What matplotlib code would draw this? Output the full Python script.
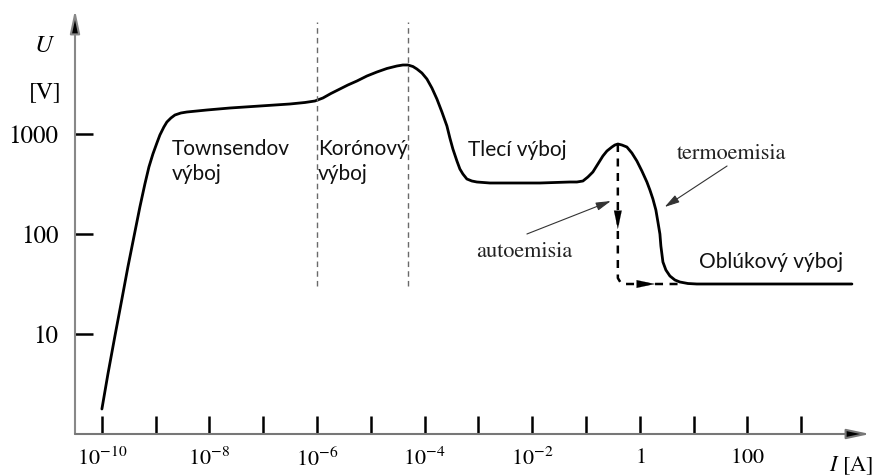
import numpy as np
import matplotlib
matplotlib.use('Agg')
import matplotlib.pyplot as plt
from matplotlib.patches import ArrowStyle

plt.rcParams['mathtext.fontset'] = 'stix'
SERIF = 'STIXGeneral'
SANS = 'Lato'

# ---- data (log10 of current [A] and voltage [V]) ----
log_I = [-10.000, -9.888, -9.758, -9.628, -9.517, -9.387, -9.294, -9.201, -9.126, -9.052,
         -8.978, -8.922, -8.848, -8.792, -8.717, -8.643, -8.532, -8.420, -8.234, -8.048,
         -7.621, -7.063, -6.506, -6.227, -6.041, -5.892, -5.743, -5.576, -5.428, -5.260,
         -5.074, -4.888, -4.703, -4.517, -4.405, -4.312, -4.219, -4.145, -4.052, -3.959,
         -3.866, -3.773, -3.680, -3.587, -3.532, -3.476, -3.401, -3.346, -3.290, -3.216,
         -3.123, -3.030, -2.788, -1.859, -1.301, -1.171, -1.059, -0.967, -0.874, -0.781,
         -0.688, -0.613, -0.520, -0.465, -0.409, -0.335, -0.242, -0.149, -0.056, 0.037,
         0.130, 0.186, 0.242, 0.297, 0.335, 0.372, 0.390, 0.409, 0.428, 0.483,
         0.558, 0.651, 0.743, 0.892, 1.059, 3.941]
log_U = [0.25, 0.60, 0.98, 1.35, 1.67, 2.02, 2.27, 2.50, 2.67, 2.80,
         2.91, 2.99, 3.07, 3.12, 3.16, 3.19, 3.21, 3.22, 3.23, 3.24,
         3.26, 3.28, 3.30, 3.315, 3.33, 3.36, 3.405, 3.45, 3.49, 3.53,
         3.58, 3.62, 3.655, 3.68, 3.69, 3.69, 3.675, 3.65, 3.61, 3.55,
         3.46, 3.35, 3.22, 3.08, 2.96, 2.85, 2.73, 2.65, 2.60, 2.55,
         2.53, 2.52, 2.51, 2.51, 2.52, 2.52, 2.53, 2.57, 2.62, 2.70,
         2.78, 2.83, 2.87, 2.89, 2.90, 2.89, 2.87, 2.81, 2.73, 2.63,
         2.52, 2.44, 2.35, 2.24, 2.12, 2.00, 1.88, 1.80, 1.72, 1.64,
         1.58, 1.54, 1.52, 1.505, 1.50, 1.50]

# auto-emission jump (dashed path)
jump_log_I = [-0.41, -0.41, -0.36, -0.28, 0.74]
jump_log_U = [2.90, 1.56, 1.515, 1.50, 1.50]

# region boundaries (dashed verticals)
boundary_log_I = [-6.0, -4.31]
boundary_log_U = [1.48, 4.12]

xtick_exps = list(range(-10, 4))
xtick_text = {-10: r'$10^{-10}$', -8: r'$10^{-8}$', -6: r'$10^{-6}$',
              -4: r'$10^{-4}$', -2: r'$10^{-2}$', 0: r'$1$', 2: r'$100$'}
ytick_vals = [10, 100, 1000]
ytick_text = ['10', '100', '1000']

region_labels = [('Townsendov\nvýboj', -8.70, 2.95),
                 ('Korónový\nvýboj', -5.99, 2.95),
                 ('Tlecí výboj', -3.20, 2.84),
                 ('Oblúkový výboj', 1.10, 1.72)]
process_labels = [('termoemisia', 0.69, 2.80, 1.62, 2.68, 0.46, 2.27),
                  ('autoemisia', -3.05, 1.82, -2.10, 2.00, -0.54, 2.33)]

# ---- figure ----
W, H = 876, 476
fig = plt.figure(figsize=(W / 100, H / 100), dpi=100)
ax = fig.add_axes([75 / W, 42 / H, 795 / W, 424 / H])
ax.set_xscale('log')
ax.set_yscale('log')
ax.set_xlim(10 ** -10.5, 10 ** 4.277)
ax.set_ylim(1, 10 ** 4.24)
for s in ax.spines.values():
    s.set_visible(False)

I = 10.0 ** np.array(log_I)
U = 10.0 ** np.array(log_U)
ax.plot(I, U, color='black', lw=2.0, solid_capstyle='round', solid_joinstyle='round')

ax.plot(10.0 ** np.array(jump_log_I), 10.0 ** np.array(jump_log_U),
        color='black', lw=1.8, dashes=(3.2, 2.6))

small_head = ArrowStyle('-|>', head_length=1.3, head_width=0.28)
ax.annotate('', xy=(10 ** -0.41, 10 ** 2.05), xytext=(10 ** -0.41, 10 ** 2.25),
            arrowprops=dict(arrowstyle=small_head, color='black', lw=0.1,
                            mutation_scale=10, shrinkA=0, shrinkB=0))
ax.annotate('', xy=(10 ** 0.28, 10 ** 1.50), xytext=(10 ** 0.0, 10 ** 1.50),
            arrowprops=dict(arrowstyle=small_head, color='black', lw=0.1,
                            mutation_scale=10, shrinkA=0, shrinkB=0))

for lx in boundary_log_I:
    ax.plot([10 ** lx, 10 ** lx], [10 ** boundary_log_U[0], 10 ** boundary_log_U[1]],
            color='#6a6a6a', lw=1.0, dashes=(4, 3))

# axes with arrows
ax_head = ArrowStyle('-|>', head_length=1.4, head_width=0.3)
ax.annotate('', xy=(0, 1.0), xytext=(0, 0), xycoords='axes fraction',
            arrowprops=dict(arrowstyle=ax_head, color='#888888', lw=1.5,
                            mutation_scale=10, shrinkA=0, shrinkB=0,
                            fc='black', ec='#888888'))
ax.annotate('', xy=(1.0, 0), xytext=(0, 0), xycoords='axes fraction',
            arrowprops=dict(arrowstyle=ax_head, color='#777777', lw=1.5,
                            mutation_scale=10, shrinkA=0, shrinkB=0,
                            fc='black', ec='#777777'))

# ticks
ax.set_xticks([10.0 ** e for e in xtick_exps])
ax.set_xticklabels([xtick_text.get(e, '') for e in xtick_exps])
ax.set_yticks(ytick_vals)
ax.set_yticklabels(ytick_text)
ax.xaxis.set_minor_locator(matplotlib.ticker.NullLocator())
ax.yaxis.set_minor_locator(matplotlib.ticker.NullLocator())
ax.tick_params(axis='both', direction='in', length=13, width=1.8, color='black')
ax.tick_params(axis='x', pad=10, labelsize=16)
ax.tick_params(axis='y', pad=12, labelsize=18)
for lab in ax.get_xticklabels() + ax.get_yticklabels():
    lab.set_fontfamily(SERIF)

# axis titles
fig.text(45 / W, 1 - 45 / H, r'$U$', fontsize=18, ha='center', va='center')
fig.text(45 / W, 1 - 92 / H, '[V]', fontsize=17, ha='center', va='center',
         family=SERIF)
fig.text(829 / W, 1 - 466 / H, r'$I$ [A]', fontsize=16, ha='left', va='center',
         family=SERIF)

# labels
for txt, lx, ly in region_labels:
    ax.text(10 ** lx, 10 ** ly, txt, fontsize=15, family=SANS, ha='left',
            va='top' if '\n' in txt else 'center', linespacing=1.3, color='#111111')

for txt, tx, ty, ax0, ay0, ax1, ay1 in process_labels:
    ax.text(10 ** tx, 10 ** ty, txt, fontsize=16, family=SERIF, ha='left',
            va='center', color='#222222')
    ax.annotate('', xy=(10 ** ax1, 10 ** ay1), xytext=(10 ** ax0, 10 ** ay0),
                arrowprops=dict(arrowstyle=ArrowStyle('-|>', head_length=0.9, head_width=0.25),
                                color='#333333', lw=0.8, mutation_scale=10,
                                shrinkA=0, shrinkB=0))

fig.savefig('out.png', dpi=100)
